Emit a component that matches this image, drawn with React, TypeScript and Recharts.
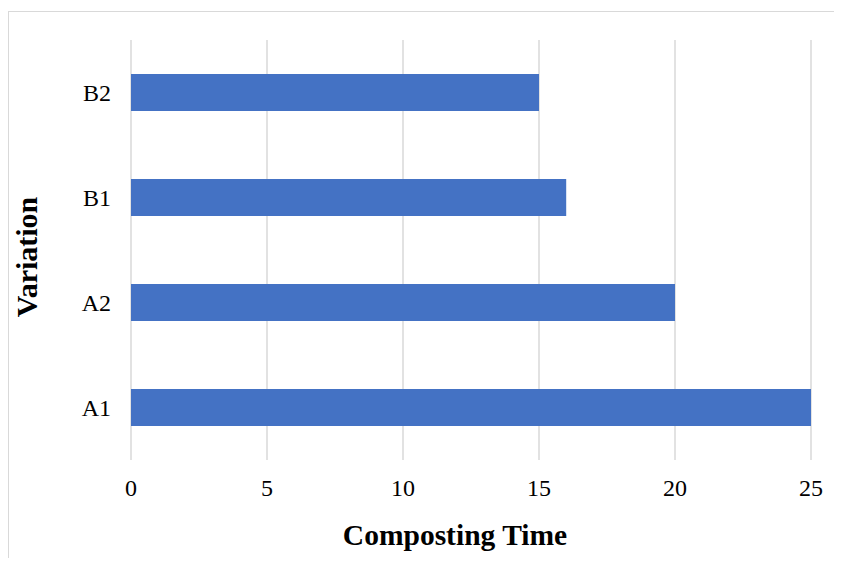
import React from "react";
import { BarChart, Bar, XAxis, YAxis, CartesianGrid, Label } from "recharts";

const categories = ["A1", "A2", "B1", "B2"];
const compostingTime = [25, 20, 16, 15];
const xTicks = [0, 5, 10, 15, 20, 25];

const data = categories.map((c, i) => ({ name: c, value: compostingTime[i] }));

const FONT = '"Liberation Serif", "Times New Roman", serif';

export default function App() {
  return (
    <div style={{ position: "relative", width: 834, height: 550 }}>
      <div
        style={{
          position: "absolute",
          left: 0,
          top: 3,
          right: 0,
          bottom: 0,
          borderTop: "1px solid #d9d9d9",
          borderLeft: "1px solid #d9d9d9",
        }}
      />
      <div style={{ position: "absolute", left: 0, top: 0 }}>
        <BarChart
          width={834}
          height={550}
          data={data}
          layout="vertical"
          margin={{ top: 32, right: 31, bottom: 0, left: 0 }}
          barCategoryGap="32%"
        >
          <CartesianGrid horizontal={false} vertical={true} stroke="#d9d9d9" strokeWidth={1.5} />
          <XAxis
            type="number"
            domain={[0, 25]}
            ticks={xTicks}
            interval={0}
            axisLine={false}
            tickLine={false}
            tickMargin={13}
            height={98}
            tick={{ fontSize: 24, fontFamily: FONT, fill: "#000" }}
          >
            <Label
              content={() => (
                <text
                  x={447}
                  y={537}
                  textAnchor="middle"
                  style={{ fontSize: 29.5, fontFamily: FONT, fontWeight: "bold", fill: "#000" }}
                >
                  Composting Time
                </text>
              )}
            />
          </XAxis>
          <YAxis
            type="category"
            dataKey="name"
            reversed
            width={123}
            axisLine={false}
            tickLine={false}
            tickMargin={14}
            tick={{ fontSize: 24, fontFamily: FONT, fill: "#000" }}
          >
            <Label
              content={() => (
                <text
                  x={29}
                  y={249}
                  textAnchor="middle"
                  transform="rotate(-90 29 249)"
                  style={{ fontSize: 30, fontFamily: FONT, fontWeight: "bold", fill: "#000" }}
                >
                  Variation
                </text>
              )}
            />
          </YAxis>
          <Bar dataKey="value" fill="#4472C4" barSize={37} isAnimationActive={false} />
        </BarChart>
      </div>
    </div>
  );
}
